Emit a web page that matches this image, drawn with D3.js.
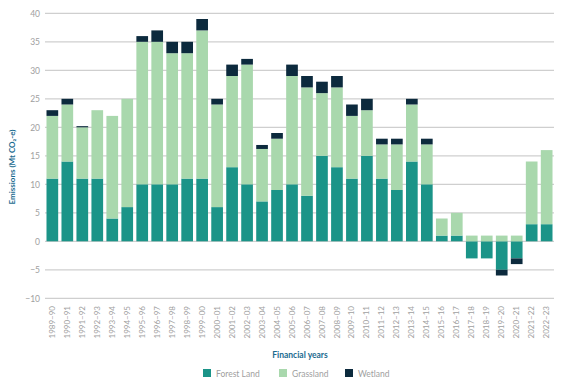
<!DOCTYPE html>
<html><head><meta charset="utf-8">
<script src="https://cdn.jsdelivr.net/npm/d3@7"></script>
<style>body{margin:0;background:#fff;}svg{display:block;font-family:Lato,"Open Sans",sans-serif;}</style>
</head><body><svg id="c" width="569" height="384"></svg>
<script>
const years = ["1989–90","1990–91","1991–92","1992–93","1993–94","1994–95","1995–96","1996–97","1997–98","1998–99","1999–00","2000–01","2001–02","2002–03","2003–04","2004–05","2005–06","2006–07","2007–08","2008–09","2009–10","2010–11","2011–12","2012–13","2013–14","2014–15","2015–16","2016–17","2017–18","2018–19","2019–20","2020–21","2021–22","2022–23"];
const forestLand = [11,14,11,11,4,6,10,10,10,11,11,6,13,10,7,9,10,8,15,13,11,15,11,9,14,10,1,1,-3,-3,-5,-3,3,3];
const grassland  = [11,10,9,12,18,19,25,25,23,22,26,18,16,21,9.2,9,19,19,11,14,11,8,6,8,10,7,3,4,1,1,1,1,11,13];
const wetland    = [1,1,0.2,0,0,0,1,2,2,2,2,1,2,1,0.7,1,2,2,2,2,2,2,1,1,1,1,0,0,0,0,-1,-1,0,0];
const yTicks = [-10,-5,0,5,10,15,20,25,30,35,40];
const seriesNames = ["Forest Land","Grassland","Wetland"];
const colors = ["#1b9488","#a9d8ad","#0c2a3d"];

const svg = d3.select("#c");
const x = d3.scaleBand().domain(years).range([45,554]).paddingInner(0.22).paddingOuter(0.1);
const y = d3.scaleLinear().domain([-10,40]).range([298.3,13.3]);

// grid
svg.append("g").selectAll("line").data(yTicks).join("line")
  .attr("x1",45).attr("x2",554).attr("y1",d=>y(d)).attr("y2",d=>y(d))
  .attr("stroke","#cfcfcf").attr("stroke-width",1.3);

// y tick labels
const yAxis = svg.append("g").attr("transform","translate(45,0)")
  .call(d3.axisLeft(y).tickValues(yTicks).tickSize(0).tickPadding(5));
yAxis.select(".domain").remove();
yAxis.selectAll("text").attr("fill","#a0a0a0").style("font-size","8.5px").style("font-family","Lato,'Open Sans',sans-serif");

// stacked bars
const rows = years.map((yr,i)=>({yr, f:forestLand[i], g:grassland[i], w:wetland[i]}));
const segs = [];
rows.forEach(r=>{
  let pos=0, neg=0;
  [r.f,r.g,r.w].forEach((v,k)=>{
    if(v>=0){segs.push({yr:r.yr,k,y0:pos,y1:pos+v}); pos+=v;}
    else {segs.push({yr:r.yr,k,y0:neg+v,y1:neg}); neg+=v;}
  });
});
svg.append("g").selectAll("rect").data(segs.filter(s=>s.y1>s.y0)).join("rect")
  .attr("x",d=>x(d.yr)).attr("width",x.bandwidth())
  .attr("y",d=>y(d.y1)).attr("height",d=>y(d.y0)-y(d.y1))
  .attr("fill",d=>colors[d.k]);

// x tick labels
const xAxis = svg.append("g").attr("transform","translate(0,303)")
  .call(d3.axisBottom(x).tickSize(0).tickPadding(0));
xAxis.select(".domain").remove();
xAxis.selectAll("text").attr("fill","#a0a0a0").style("font-size","8px")
  .style("font-family","Lato,'Open Sans',sans-serif")
  .attr("text-anchor","end").attr("dy","0.32em").attr("transform","rotate(-90)").attr("x",-3).attr("y",0);

// axis titles
svg.append("text").attr("x",300).attr("y",358).attr("text-anchor","middle")
  .attr("fill","#1a6b8f").style("font-size","8.5px").style("font-weight","bold").text("Financial years");
svg.append("text").attr("transform","translate(15,167) rotate(-90)").attr("text-anchor","middle")
  .attr("fill","#1a6b8f").style("font-size","8px").style("font-weight","bold").text("Emissions (Mt CO₂-e)");

// legend
const lx = [203,279,345];
const lg = svg.append("g").selectAll("g").data(seriesNames).join("g")
  .attr("transform",(d,i)=>`translate(${lx[i]},369)`);
lg.append("rect").attr("width",8).attr("height",8).attr("fill",(d,i)=>colors[i]);
lg.append("text").attr("x",13).attr("y",7.5).attr("fill","#a0a0a0").style("font-size","8.5px").text(d=>d);
</script></body></html>
